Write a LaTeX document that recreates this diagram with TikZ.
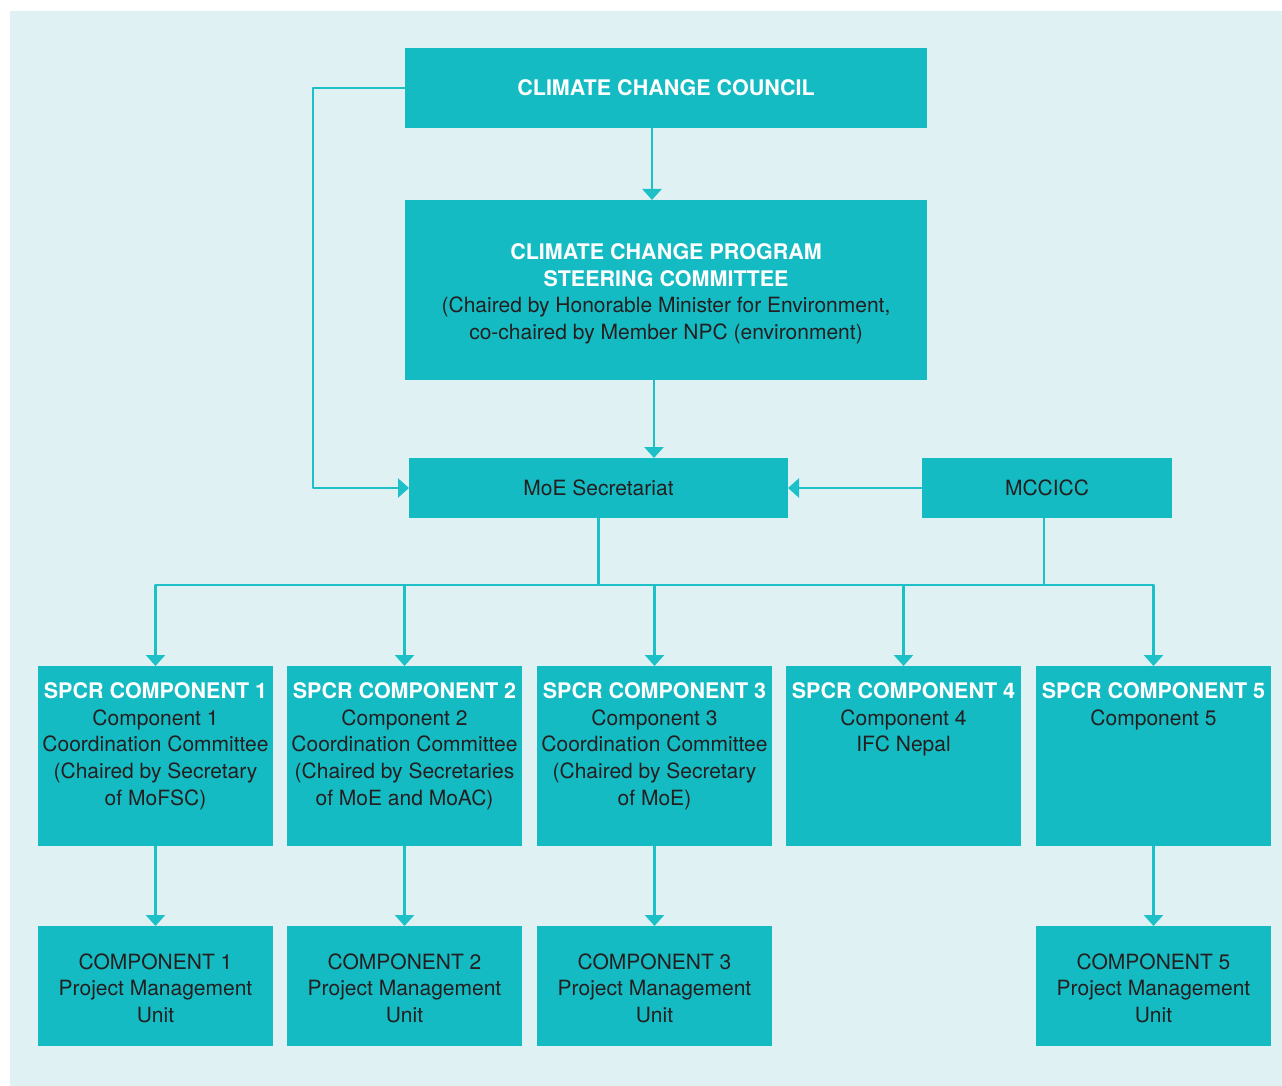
\documentclass[tikz,border=0pt]{standalone}
\usepackage{fontspec}
\setmainfont{TeX Gyre Heros}
\usetikzlibrary{arrows.meta,calc}
\definecolor{bgc}{HTML}{E0F1F4}
\definecolor{boxc}{HTML}{15BBC3}
\definecolor{linec}{HTML}{1DC0C6}
\definecolor{txtc}{HTML}{231F20}
\newcommand\mytitle[1]{{\fontsize{21.5}{26.7}\selectfont\bfseries\color{white}#1}}
\begin{document}
\begin{tikzpicture}[x=1pt,y=-1pt,
  rect/.style={fill=boxc, inner sep=0pt, outer sep=0pt},
  comp/.style={rect, minimum width=235pt, minimum height=180pt},
  pmu/.style={rect, minimum width=235pt, minimum height=120pt},
  lab/.style={inner sep=0pt, align=center, text=txtc, font=\fontsize{21}{26.7}\selectfont, anchor=north},
  conn/.style={draw=linec, line width=2.5pt, line join=round},
  arr/.style={conn, -{Triangle[length=11pt,width=19pt]}}]
\useasboundingbox (0,0) rectangle (1282,1086);
\fill[white] (0,0) rectangle (1282,1086);
\fill[bgc] (10,11) rectangle (1282,1086);

% top boxes
\node[rect, minimum width=522pt, minimum height=80pt, text=white,
      font=\fontsize{21.5}{26.7}\selectfont\bfseries] (ccc) at (666,88) {CLIMATE CHANGE COUNCIL};
\node[rect, minimum width=522pt, minimum height=180pt] (ccpsc) at (666,290) {};
\node[lab] (ccpsct) at (666,243.3) {\mytitle{CLIMATE CHANGE PROGRAM}\\ \mytitle{STEERING COMMITTEE}\\ (Chaired by Honorable Minister for Environment,\\ co-chaired by Member NPC (environment)};
\node[rect, minimum width=379pt, minimum height=60pt, text=txtc,
      font=\fontsize{21}{26.7}\selectfont] (moe) at (598.5,488) {MoE Secretariat};
\node[rect, minimum width=250pt, minimum height=60pt, text=txtc,
      font=\fontsize{21}{26.7}\selectfont] (mcc) at (1047,488) {MCCICC};

% component boxes
\node[comp] (c1) at (155.5,756) {};
\node[comp] (c2) at (404.5,756) {};
\node[comp] (c3) at (654.5,756) {};
\node[comp] (c4) at (903.5,756) {};
\node[comp] (c5) at (1153.5,756) {};
\node[lab] (c1t) at (155.5,682.3) {\mytitle{SPCR COMPONENT 1}\\ Component 1\\ Coordination Committee\\ (Chaired by Secretary\\ of MoFSC)};
\node[lab] (c2t) at (404.5,682.3) {\mytitle{SPCR COMPONENT 2}\\ Component 2\\ Coordination Committee\\ (Chaired by Secretaries\\ of MoE and MoAC)};
\node[lab] (c3t) at (654.5,682.3) {\mytitle{SPCR COMPONENT 3}\\ Component 3\\ Coordination Committee\\ (Chaired by Secretary\\ of MoE)};
\node[lab] (c4t) at (903.5,682.3) {\mytitle{SPCR COMPONENT 4}\\ Component 4\\ IFC Nepal};
\node[lab] (c5t) at (1153.5,682.3) {\mytitle{SPCR COMPONENT 5}\\ Component 5};

% PMU boxes
\node[pmu] (p1) at (155.5,986) {};
\node[pmu] (p2) at (404.5,986) {};
\node[pmu] (p3) at (654.5,986) {};
\node[pmu] (p5) at (1153.5,986) {};
\node[lab] (p1t) at (155.5,953.4) {COMPONENT 1\\ Project Management\\ Unit};
\node[lab] (p2t) at (404.5,953.4) {COMPONENT 2\\ Project Management\\ Unit};
\node[lab] (p3t) at (654.5,953.4) {COMPONENT 3\\ Project Management\\ Unit};
\node[lab] (p5t) at (1153.5,953.4) {COMPONENT 5\\ Project Management\\ Unit};

% helper coordinates
\coordinate (xa) at (652,0);
\coordinate (xb) at (654,0);
\coordinate (xm) at (1044,0);
\coordinate (bus) at (0,585);

% connectors
\draw[arr] (ccc.south -| xa) -- (ccpsc.north -| xa);
\draw[arr] (ccpsc.south -| xb) -- (moe.north -| xb);
\draw[arr] (ccc.west) -- ++(-92,0) |- (moe.west);
\draw[arr] (mcc.west) -- (moe.east);
\draw[conn] (moe.south) -- (moe.south |- bus);
\draw[conn] (mcc.south -| xm) -- (xm |- bus);
\draw[conn, {Triangle[length=11pt,width=19pt]}-{Triangle[length=11pt,width=19pt]}]
  (c1.north) -- (c1.north |- bus) -- (c5.north |- bus) -- (c5.north);
\draw[arr] (c2.north |- bus) -- (c2.north);
\draw[arr] (c3.north |- bus) -- (c3.north);
\draw[arr] (c4.north |- bus) -- (c4.north);
\draw[arr] (c1.south) -- (p1.north);
\draw[arr] (c2.south) -- (p2.north);
\draw[arr] (c3.south) -- (p3.north);
\draw[arr] (c5.south) -- (p5.north);
\end{tikzpicture}
\end{document}
